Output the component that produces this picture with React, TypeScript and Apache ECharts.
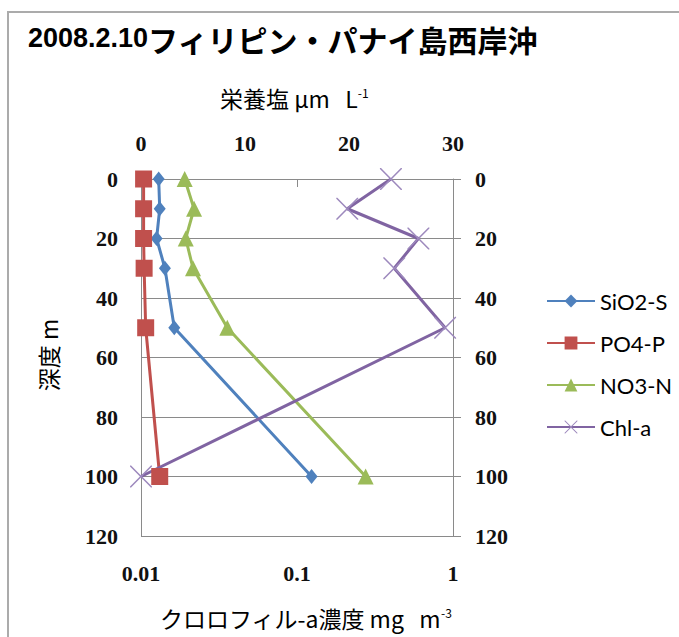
import { useEffect, useRef } from 'react';
import * as echarts from 'echarts';

// ---- data ----
const depths = [0, 10, 20, 30, 50, 100];
const sio2 = [1.7, 1.8, 1.5, 2.3, 3.2, 16.4];
const po4 = [0.25, 0.25, 0.25, 0.3, 0.45, 1.8];
const no3 = [4.2, 5.1, 4.3, 5.0, 8.3, 21.6];
const chla = [0.4, 0.21, 0.6, 0.42, 0.89, 0.01];
const seriesNames = ['SiO2-S', 'PO4-P', 'NO3-N', 'Chl-a'];
const nutrientRange = [0, 30];
const nutrientStep = 10;
const depthRange = [0, 120];
const depthStep = 20;
const chlRange = [0.01, 1];

const titleDate = '2008.2.10';
const titleText = 'フィリピン・パナイ島西岸沖';

const COLORS = ['#4F81BD', '#C0504D', '#9BBB59', '#8064A2'];
const GRID_C = '#8a8a8a';
const CJK = '"Noto Sans CJK JP", sans-serif';
const SERIF = '"Liberation Serif", "DejaVu Serif", serif';
const XSYM =
  'path://M0,0L1,0L10,9L19,0L20,0L20,1L11,10L20,19L20,20L19,20L10,11L1,20L0,20L0,19L9,10L0,1Z';

export default function App() {
  const ref = useRef<HTMLDivElement>(null);
  useEffect(() => {
    if (!ref.current) return;
    const chart = echarts.init(ref.current, null, { renderer: 'svg' });
    const tickLabel = { fontFamily: SERIF, fontSize: 22, fontWeight: 'bold', color: '#111' };
    const pair = (arr: number[]) => arr.map((v, i) => [v, depths[i]]);
    const mk = (
      idx: number,
      vals: number[],
      xAxisIndex: number,
      symbol: string,
      symbolSize: number | number[],
      symColor?: string
    ) => ({
      type: 'line',
      name: seriesNames[idx],
      xAxisIndex,
      yAxisIndex: 0,
      data: pair(vals),
      symbol,
      symbolSize,
      showSymbol: true,
      clip: false,
      lineStyle: { width: 3, color: COLORS[idx] },
      itemStyle: { color: symColor || COLORS[idx] },
      emphasis: { disabled: true },
    });
    const nameStyle = { fontFamily: CJK, fontSize: 23, fill: '#000' };
    const supStyle = { fontFamily: CJK, fontSize: 12, fill: '#000', verticalAlign: 'top' };
    chart.setOption({
      animation: false,
      backgroundColor: '#fff',
      grid: { left: 141, top: 179, right: 226, bottom: 101, containLabel: false },
      legend: {
        orient: 'vertical',
        left: 541,
        top: 285,
        itemWidth: 48,
        itemHeight: 16,
        itemGap: 20,
        textStyle: { fontFamily: 'Lato, "Open Sans", sans-serif', fontSize: 22, color: '#000' },
        data: seriesNames,
      },
      xAxis: [
        {
          type: 'value',
          position: 'top',
          min: nutrientRange[0],
          max: nutrientRange[1],
          interval: nutrientStep,
          axisLine: { show: true, lineStyle: { color: GRID_C } },
          axisTick: { show: false },
          splitLine: { show: false },
          axisLabel: { ...tickLabel, margin: 25 },
        },
        {
          type: 'log',
          logBase: 10,
          position: 'bottom',
          min: chlRange[0],
          max: chlRange[1],
          axisLine: { show: true, lineStyle: { color: GRID_C } },
          axisTick: { show: true, length: 8, lineStyle: { color: GRID_C } },
          minorTick: { show: false },
          splitLine: { show: false },
          axisLabel: {
            ...tickLabel,
            margin: 26,
            formatter: (v: number) => String(parseFloat(Number(v).toPrecision(3))),
          },
        },
      ],
      yAxis: [
        {
          type: 'value',
          inverse: true,
          position: 'left',
          min: depthRange[0],
          max: depthRange[1],
          interval: depthStep,
          axisLine: { show: true, lineStyle: { color: GRID_C } },
          axisTick: { show: false },
          splitLine: { show: true, lineStyle: { color: GRID_C, width: 1 } },
          axisLabel: { ...tickLabel, margin: 23 },
        },
        {
          type: 'value',
          inverse: true,
          position: 'right',
          min: depthRange[0],
          max: depthRange[1],
          interval: depthStep,
          axisLine: { show: true, lineStyle: { color: GRID_C } },
          axisTick: { show: true, length: 8, lineStyle: { color: GRID_C } },
          splitLine: { show: false },
          axisLabel: { ...tickLabel, margin: 22 },
        },
      ],
      series: [
        mk(0, sio2, 0, 'diamond', [12, 15]),
        mk(1, po4, 0, 'rect', 17),
        mk(2, no3, 0, 'triangle', 16),
        mk(3, chla, 1, XSYM, 22, '#9d89bd'),
      ],
      graphic: [
        {
          type: 'rect',
          silent: true,
          z: -10,
          shape: { x: 8, y: 12, width: 720, height: 700 },
          style: { fill: 'none', stroke: '#ababab', lineWidth: 2 },
        },
        {
          type: 'text',
          x: 28,
          y: 39,
          style: {
            text: '{d|' + titleDate + '}{j|' + titleText + '}',
            align: 'left',
            verticalAlign: 'middle',
            fill: '#000',
            rich: {
              d: {
                fontFamily: '"Liberation Sans", sans-serif',
                fontWeight: 'bold',
                fontSize: 27,
                fill: '#000',
                padding: [0, 0, 2, 0],
              },
              j: { fontFamily: CJK, fontWeight: 'bold', fontSize: 30, fill: '#000' },
            },
          },
        },
        {
          type: 'text',
          x: 220,
          y: 98,
          style: {
            text: '{a|栄養塩 μm   L}{s|-1}',
            align: 'left',
            verticalAlign: 'middle',
            fill: '#000',
            rich: { a: nameStyle, s: supStyle },
          },
        },
        {
          type: 'text',
          x: 160,
          y: 618,
          style: {
            text: '{a|クロロフィル-a濃度 mg   m}{s|-3}',
            align: 'left',
            verticalAlign: 'middle',
            fill: '#000',
            rich: { a: nameStyle, s: supStyle },
          },
        },
        {
          type: 'text',
          x: 48,
          y: 355,
          rotation: Math.PI / 2,
          style: {
            text: '深度 m',
            align: 'center',
            verticalAlign: 'middle',
            fontFamily: CJK,
            fontSize: 23,
            fill: '#000',
          },
        },
      ],
    });
    return () => chart.dispose();
  }, []);
  return (
    <div
      ref={ref}
      style={{ position: 'absolute', left: 0, top: 0, width: 679, height: 637, background: '#fff' }}
    />
  );
}
